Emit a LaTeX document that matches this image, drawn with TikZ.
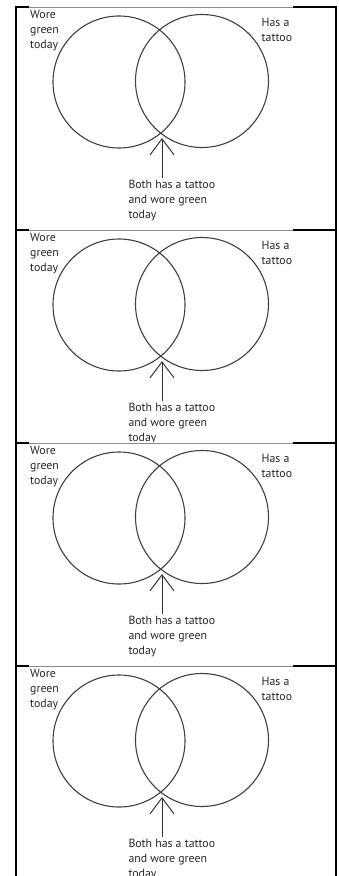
\documentclass[tikz,border=0pt]{standalone}
\usepackage{fontspec}
\setmainfont{PT Sans}
\usetikzlibrary{arrows.meta}
\begin{document}
\begin{tikzpicture}[x=1pt,y=-1pt,line join=round,
  lbl/.style={anchor=north west,inner sep=0pt,align=left,text=black!85,font=\fontsize{11.8}{15}\selectfont},
  ring/.style={draw=black!75,line width=1.1pt},
  rule/.style={line width=2pt,black},
  edge/.style={draw=black!45,line width=1pt},
  pointer/.style={draw=black!80,line width=1pt,shorten <=2pt,-{Straight Barb[length=16pt,width=24pt]}}]
  \useasboundingbox (0,0) rectangle (338,876);
  \draw[rule] (16,6) -- (16,876) (336,6) -- (336,876);
  \foreach \p/\t/\b in {1/7/230,2/230/443,3/443/666,4/666/890}{
    \draw[rule] (15,\t) -- (337,\t);
    \draw[white,line width=2pt] (29,\t) -- (293,\t);
    \draw[edge] (29,\t+0.5) -- (293,\t+0.5);
    \begin{scope}
      \clip (17,\t+1) rectangle (335,\b-1);
      \draw[ring] (119,\t+75) circle[radius=66];
      \draw[ring] (202,\t+74) circle[radius=66.5];
      \coordinate (tip\p) at (162,\t+131);
      \node[lbl] (green\p) at (30,\t+3.2) {Wore\\green\\today};
      \node[lbl] (tattoo\p) at (261.5,\t+11.2) {Has a\\tattoo};
      \node[lbl] (both\p) at (128.3,\t+172.7) {Both has a tattoo\\and wore green\\today};
      \draw[pointer] (both\p.north -| tip\p) -- (tip\p);
    \end{scope}
  }
\end{tikzpicture}
\end{document}
